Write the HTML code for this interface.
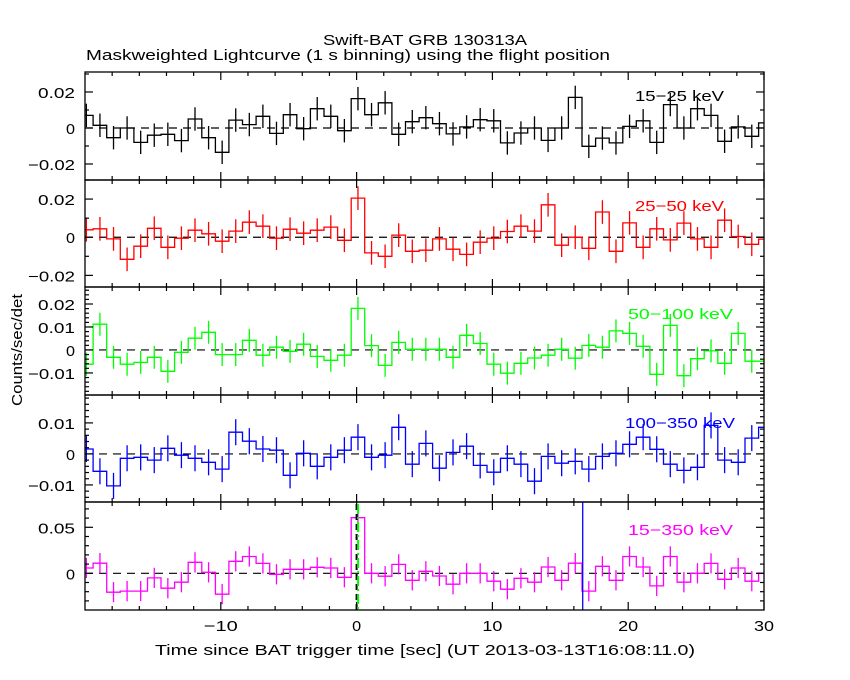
<!DOCTYPE html>
<html><head><meta charset="utf-8"><style>
body{margin:0;background:#fff;}
svg{display:block;font-family:"Liberation Sans",sans-serif;}
</style></head><body>
<svg id="chart" width="850" height="680" viewBox="0 0 850 680">
<text x="425" y="45" text-anchor="middle" font-size="15" textLength="204" lengthAdjust="spacingAndGlyphs">Swift-BAT GRB 130313A</text>
<text x="86" y="60" font-size="15" textLength="524" lengthAdjust="spacingAndGlyphs">Maskweighted Lightcurve (1 s binning) using the flight position</text>
<text transform="translate(22,350) rotate(-90)" text-anchor="middle" font-size="15" textLength="112" lengthAdjust="spacingAndGlyphs">Counts/sec/det</text>
<text x="425" y="655" text-anchor="middle" font-size="15" textLength="540" lengthAdjust="spacingAndGlyphs">Time since BAT trigger time [sec] (UT 2013-03-13T16:08:11.0)</text>
<g id="panels"></g>
</svg>
<script>
const binStart = -20.4;
const xTicksMajor = [-10, 0, 10, 20, 30];
const xTickLabels = ['\u221210', '0', '10', '20', '30'];
const band1 = [0.007,0.0015,-0.0054,0,-0.008,-0.004,-0.0035,-0.007,0.005,-0.0054,-0.0135,0.0044,0.0019,0.0065,-0.003,0.0074,-0.0004,0.0107,0.0065,-0.0015,0.0163,0.0074,0.014,-0.0035,0.0035,0.0057,0.0024,-0.0033,0.0006,0.0046,0.004,-0.0083,-0.0028,0,-0.0069,0,0.017,-0.0102,-0.0056,-0.0083,0.0009,0.004,-0.008,0.013,0,0.0107,0.007,-0.0074,0.0006,-0.0046,0.0028];
const band2 = [0.0039,0.0044,-0.0009,-0.0116,-0.0047,0.0047,-0.0053,-0.0005,0.0037,0.0018,-0.0021,0.0032,0.0079,0.0058,-0.0005,0.0042,0.0021,0.0037,0.0053,-0.0016,0.0205,-0.0082,-0.01,0.0011,-0.0074,-0.0068,-0.0009,-0.0063,-0.009,-0.0026,-0.0005,0.003,0.0058,0.0032,0.017,-0.0042,0,-0.0058,0.0132,-0.0074,0.0075,-0.0053,0.0044,-0.0014,0.0074,-0.0009,-0.0053,0.0089,0.0004,-0.0037,-0.001];
const band3 = [-0.0062,0.0112,-0.0032,-0.0062,-0.0054,-0.0032,-0.0093,-0.001,0.0051,0.0077,-0.002,-0.002,0.0042,-0.0023,0.0012,-0.0006,0.0025,-0.0028,-0.0045,-0.0023,0.0181,0.0019,-0.0067,0.0033,0.0003,0.0003,0.0003,-0.0032,0.0064,0.0028,-0.0062,-0.0101,-0.0058,-0.0035,-0.0023,0.0003,-0.0036,0.002,0.0012,0.0083,0.0072,0.0016,-0.0106,0.0107,-0.0112,-0.0038,-0.0004,-0.0058,0.0072,-0.0049,-0.0049];
const band4 = [0.0016,-0.0056,-0.0103,-0.0014,-0.0011,-0.002,0.0018,-0.0004,-0.0014,-0.0027,-0.0049,0.007,0.0041,0.0016,0.0012,-0.0069,0.0002,-0.004,-0.0011,0.0012,0.0054,-0.0011,-0.0004,0.0086,-0.0033,0.0034,-0.0046,0.0005,0.0025,-0.0037,-0.0059,-0.0014,-0.0033,-0.0088,-0.0008,-0.003,-0.0024,-0.0049,-0.0008,0.0002,0.0031,0.0054,0.0015,-0.0033,-0.0053,-0.0043,0.0092,-0.002,-0.0027,0.0051,0.0086];
const band5 = [0.0058,0.011,-0.0205,-0.0194,-0.0194,-0.005,-0.0162,-0.0097,0.0119,0.0011,-0.0227,0.013,0.0183,0.0108,-0.0011,0.0043,0.0043,0.0065,0.0058,-0.0043,0.0604,0,-0.0032,0.0097,-0.0076,0.0022,-0.0029,-0.0119,0,0,-0.0086,-0.0173,-0.0054,-0.0097,0.0068,-0.0076,0.011,-0.0194,0.0076,-0.0076,0.0183,0.0068,-0.0137,0.0183,-0.0097,0,0.0108,-0.0065,0.0058,-0.0086,0];
const errs = [0.0065, 0.0062, 0.005, 0.0042, 0.011];
const bandLabels = ['15\u221225 keV','25\u221250 keV','50\u2212100 keV','100\u2212350 keV','15\u2212350 keV'];
const yTickLabels1 = ['0.02','0','\u22120.02'];
const yTickVals1 = [0.02,0,-0.02];
const yTickVals3 = [0.02,0.01,0,-0.01];
const yTickLabels3 = ['0.02','0.01','0','\u22120.01'];
const yTickVals4 = [0.01,0,-0.01];
const yTickLabels4 = ['0.01','0','\u22120.01'];
const yTickVals5 = [0.05,0];
const yTickLabels5 = ['0.05','0'];
const blueLineT = 16.65;

const NS='http://www.w3.org/2000/svg';
const X0=85, X1=764, TMIN=-20, TMAX=30;
const xs = t => X0 + (t-TMIN)/(TMAX-TMIN)*(X1-X0);
const panels = [
 {data:band1, top:72, bot:180, dom:[-0.0289,0.0311], color:'#000', tv:yTickVals1, tl:yTickLabels1, minor:0.01, name:'15-25'},
 {data:band2, top:180, bot:287, dom:[-0.0261,0.030], color:'#f00', tv:yTickVals1, tl:yTickLabels1, minor:0.01, name:'25-50'},
 {data:band3, top:287, bot:395, dom:[-0.0196,0.0274], color:'#0f0', tv:yTickVals3, tl:yTickLabels3, minor:0.002, name:'50-100'},
 {data:band4, top:395, bot:502, dom:[-0.0155,0.019], color:'#00f', tv:yTickVals4, tl:yTickLabels4, minor:0.002, name:'100-350'},
 {data:band5, top:502, bot:610, dom:[-0.0399,0.0775], color:'#f0f', tv:yTickVals5, tl:yTickLabels5, minor:0.01, name:'15-350'}
];
const root=document.getElementById('panels');
function mk(tag,attrs,parent){const e=document.createElementNS(NS,tag);for(const k in attrs)e.setAttribute(k,attrs[k]);(parent||root).appendChild(e);return e;}
const labelY=[101,211,319,428,535];
const labelX=[635,635,628,625,628];
const labelW=[89,89,105,110,105];
panels.forEach((p,i)=>{
  const g=mk('g',{});
  
  
  const ys = v => p.bot - (v-p.dom[0])/(p.dom[1]-p.dom[0])*(p.bot-p.top);
  const cp=mk('clipPath',{id:'cp'+i},g);
  mk('rect',{x:X0,y:p.top,width:X1-X0,height:p.bot-p.top},cp);
  const dg=mk('g',{'clip-path':'url(#cp'+i+')'},g);
  const z=mk('line',{x1:X0,x2:X1,y1:ys(0),y2:ys(0),stroke:'#000','stroke-width':1.2,'stroke-dasharray':'8,6'},dg);
  
  
  let d='';
  p.data.forEach((v,k)=>{
    const a=xs(binStart+k), b=xs(binStart+k+1), y=ys(v);
    d += (k===0?'M':'L')+a.toFixed(1)+','+y.toFixed(1)+'L'+b.toFixed(1)+','+y.toFixed(1);
  });
  const path=mk('path',{d:d,fill:'none',stroke:p.color,'stroke-width':1.3},dg);
  
  
  p.data.forEach((v,k)=>{
    const c=xs(binStart+k+0.5);
    const e=mk('line',{x1:c,x2:c,y1:ys(v-errs[i]),y2:ys(v+errs[i]),stroke:p.color,'stroke-width':1.3},dg);
    
    
  });
  if(i===4){
    const bl=mk('line',{x1:xs(blueLineT),x2:xs(blueLineT),y1:p.top,y2:p.bot,stroke:'#00f','stroke-width':1.3},dg);
    
    
  }
  const fr=mk('rect',{x:X0,y:p.top,width:X1-X0,height:p.bot-p.top,fill:'none',stroke:'#000','stroke-width':1.3},g);
  
  
  for(let t=-18;t<=30;t+=2){
    const major = t%10===0, L=major?8:4, x=xs(t);
    mk('line',{x1:x,x2:x,y1:p.bot,y2:p.bot-L,stroke:'#000','stroke-width':1.2},g);
    mk('line',{x1:x,x2:x,y1:p.top,y2:p.top+L,stroke:'#000','stroke-width':1.2},g);
  }
  const lo=Math.ceil(p.dom[0]/p.minor-1e-6), hi=Math.floor(p.dom[1]/p.minor+1e-6);
  for(let k=lo;k<=hi;k++){
    const v=k*p.minor, y=ys(v);
    const major=p.tv.some(t=>Math.abs(t-v)<1e-9);
    const L=major?8:4;
    mk('line',{x1:X0,x2:X0+L,y1:y,y2:y,stroke:'#000','stroke-width':1.2},g);
    mk('line',{x1:X1,x2:X1-L,y1:y,y2:y,stroke:'#000','stroke-width':1.2},g);
  }
  p.tv.forEach((v,k)=>{
    const lab=p.tl[k];
    const w = lab.length===1?9:(lab.length===4?37:47);
    const t=mk('text',{x:75,y:ys(v)+6,'text-anchor':'end','font-size':15,textLength:w,lengthAdjust:'spacingAndGlyphs'},g);
    t.textContent=lab;
    
    
  });
  const lb=mk('text',{x:labelX[i],y:labelY[i],'font-size':15,fill:p.color,textLength:labelW[i],lengthAdjust:'spacingAndGlyphs'},g);
  lb.textContent=bandLabels[i];
  
  
  if(i===4){
    const tl=mk('line',{x1:xs(0),x2:xs(0),y1:p.top+2,y2:p.bot,stroke:'#000','stroke-width':2,'stroke-dasharray':'6,4'},g);
    
    
    const gl=mk('line',{x1:xs(0)+1.5,x2:xs(0)+1.5,y1:p.top+2,y2:p.bot,stroke:'#0f0','stroke-width':2,'stroke-dasharray':'10,3,2,3'},g);
    
    
    xTicksMajor.forEach((t,k)=>{
      const lab=xTickLabels[k];
      const w = lab.length===1?9:(lab.length===2?20:34);
      const tx=mk('text',{x:xs(t),y:631,'text-anchor':'middle','font-size':15,textLength:w,lengthAdjust:'spacingAndGlyphs'},g);
      tx.textContent=lab;
      
      
    });
  }
});
</script>
</body></html>
